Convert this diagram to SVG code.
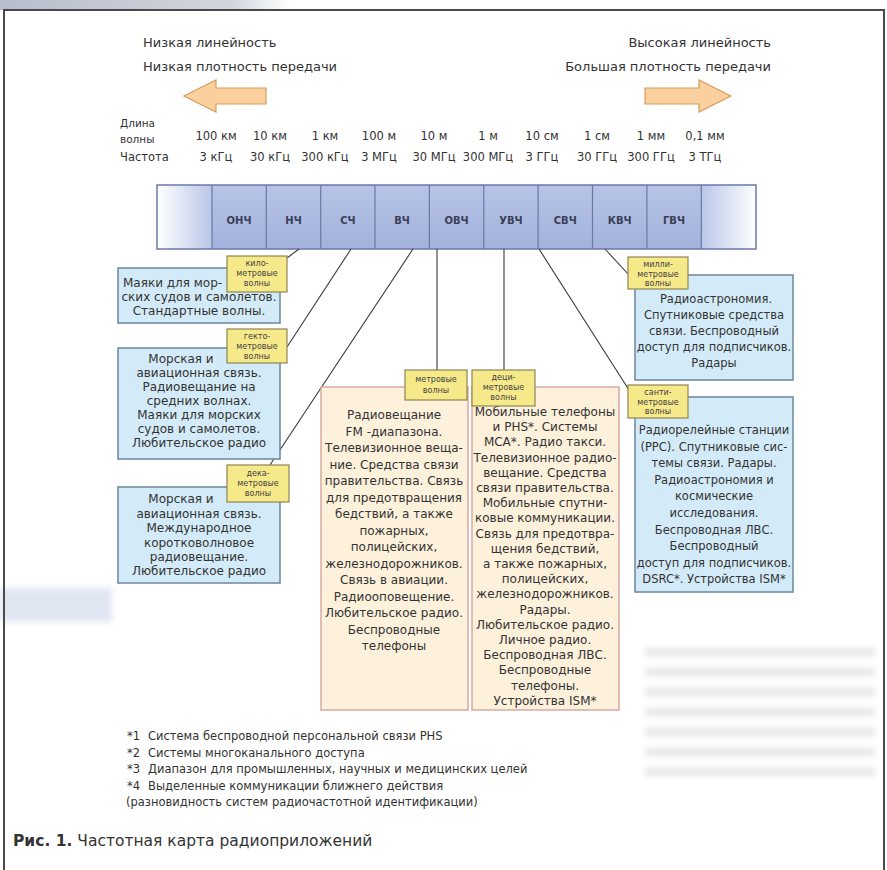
<svg xmlns="http://www.w3.org/2000/svg" width="887" height="870" viewBox="0 0 887 870">
<defs>
<linearGradient id="cell" x1="0" y1="0" x2="0" y2="1"><stop offset="0" stop-color="#b7c4e7"/><stop offset="1" stop-color="#a2b2dc"/></linearGradient>
<linearGradient id="endL" x1="0" y1="0" x2="1" y2="0"><stop offset="0" stop-color="#ffffff"/><stop offset="1" stop-color="#b9c6e8"/></linearGradient>
<linearGradient id="endR" x1="0" y1="0" x2="1" y2="0"><stop offset="0" stop-color="#b9c6e8"/><stop offset="1" stop-color="#ffffff"/></linearGradient>
<linearGradient id="corner" x1="0" y1="0" x2="1" y2="0"><stop offset="0" stop-color="#b9bccb"/><stop offset="0.8" stop-color="#d3d5de"/><stop offset="1" stop-color="#ffffff"/></linearGradient>
<filter id="blur"><feGaussianBlur stdDeviation="3"/></filter>
</defs>
<style>
text{font-family:"DejaVu Sans","Liberation Sans",sans-serif;fill:#333}
.top{font-size:13px}
.scale{font-size:11.5px;text-anchor:middle}
.band{font-size:10px;font-weight:bold;text-anchor:middle;fill:#3a3f55}
.blue{fill:#d3ebf8;stroke:#6a879c;stroke-width:1.5}
.orange{fill:#fdf1dc;stroke:#d9a9a2;stroke-width:1.5}
.tag rect{fill:#f6e98a;stroke:#8e8552;stroke-width:1.2}
.tag text{font-size:8px;text-anchor:middle;fill:#444}
.bt{font-size:12px;text-anchor:middle}
.rt{font-size:11.5px;text-anchor:middle}
.lt{font-size:12px;text-anchor:start}
.conn line{stroke:#3a3a3a;stroke-width:1.1}
.arrow{fill:#fbd09f;stroke:#d89a5c;stroke-width:1.2}
.fn{font-size:11.5px}
.div{stroke:#6a78a6;stroke-width:1.2}
</style>
<rect width="887" height="870" fill="#ffffff"/>
<rect x="0" y="0" width="290" height="10" fill="url(#corner)"/>
<g opacity="0.18" filter="url(#blur)">
<rect x="0" y="588" width="112" height="34" fill="#5a78b8"/>
<rect x="645" y="648" width="230" height="8" fill="#777"/>
<rect x="645" y="668" width="230" height="8" fill="#777"/>
<rect x="645" y="688" width="230" height="8" fill="#777"/>
<rect x="645" y="708" width="230" height="8" fill="#777"/>
<rect x="645" y="728" width="230" height="8" fill="#777"/>
<rect x="645" y="748" width="230" height="8" fill="#777"/>
<rect x="645" y="768" width="230" height="8" fill="#777"/>
</g>
<path d="M4 870 V10 H884 V870" fill="none" stroke="#4a4a4a" stroke-width="2"/>

<g id="header">
<text class="top" x="143" y="47">Низкая линейность</text>
<text class="top" x="143" y="71">Низкая плотность передачи</text>
<text class="top" x="771" y="47" text-anchor="end">Высокая линейность</text>
<text class="top" x="771" y="71" text-anchor="end">Большая плотность передачи</text>
<path class="arrow" d="M184 96 L216 80 L216 88 L266 88 L266 104 L216 104 L216 112 Z"/>
<path class="arrow" d="M731 96 L699 80 L699 88 L645 88 L645 104 L699 104 L699 112 Z"/>
</g>

<g id="scale">
<text x="120" y="127" font-size="10.5px">Длина</text>
<text x="120" y="143" font-size="10.5px">волны</text>
<text x="120" y="161" font-size="11.5px">Частота</text>
<text class="scale" x="216" y="140">100 км</text>
<text class="scale" x="270" y="140">10 км</text>
<text class="scale" x="325" y="140">1 км</text>
<text class="scale" x="379" y="140">100 м</text>
<text class="scale" x="434" y="140">10 м</text>
<text class="scale" x="488" y="140">1 м</text>
<text class="scale" x="542" y="140">10 см</text>
<text class="scale" x="597" y="140">1 см</text>
<text class="scale" x="651" y="140">1 мм</text>
<text class="scale" x="705" y="140">0,1 мм</text>
<text class="scale" x="216" y="161">3 кГц</text>
<text class="scale" x="270" y="161">30 кГц</text>
<text class="scale" x="325" y="161">300 кГц</text>
<text class="scale" x="379" y="161">3 МГц</text>
<text class="scale" x="434" y="161">30 МГц</text>
<text class="scale" x="488" y="161">300 МГц</text>
<text class="scale" x="542" y="161">3 ГГц</text>
<text class="scale" x="597" y="161">30 ГГц</text>
<text class="scale" x="651" y="161">300 ГГц</text>
<text class="scale" x="705" y="161">3 ТГц</text>
</g>

<g id="band">
<rect x="157" y="185" width="55" height="64" fill="url(#endL)"/>
<rect x="212" y="185" width="489.3" height="64" fill="url(#cell)"/>
<rect x="701.3" y="185" width="54.7" height="64" fill="url(#endR)"/>
<rect x="157" y="185" width="599" height="64" fill="none" stroke="#6a78a6" stroke-width="1.5"/>
<line class="div" x1="212" y1="185" x2="212" y2="249"/>
<line class="div" x1="266.3" y1="185" x2="266.3" y2="249"/>
<line class="div" x1="320.7" y1="185" x2="320.7" y2="249"/>
<line class="div" x1="375" y1="185" x2="375" y2="249"/>
<line class="div" x1="429.4" y1="185" x2="429.4" y2="249"/>
<line class="div" x1="483.8" y1="185" x2="483.8" y2="249"/>
<line class="div" x1="538.1" y1="185" x2="538.1" y2="249"/>
<line class="div" x1="592.5" y1="185" x2="592.5" y2="249"/>
<line class="div" x1="646.9" y1="185" x2="646.9" y2="249"/>
<line class="div" x1="701.3" y1="185" x2="701.3" y2="249"/>
<text class="band" x="239" y="224">ОНЧ</text>
<text class="band" x="293.5" y="224">НЧ</text>
<text class="band" x="348" y="224">СЧ</text>
<text class="band" x="402" y="224">ВЧ</text>
<text class="band" x="456.6" y="224">ОВЧ</text>
<text class="band" x="511" y="224">УВЧ</text>
<text class="band" x="565.3" y="224">СВЧ</text>
<text class="band" x="619.7" y="224">КВЧ</text>
<text class="band" x="674" y="224">ГВЧ</text>
</g>

<g id="connectors" class="conn">
<line x1="299" y1="249" x2="287" y2="258"/>
<line x1="351" y1="249" x2="287" y2="347"/>
<line x1="413" y1="249" x2="270" y2="465"/>
<line x1="437" y1="249" x2="437" y2="370"/>
<line x1="504" y1="249" x2="504" y2="370"/>
<line x1="539" y1="249" x2="629" y2="390"/>
<line x1="605" y1="249" x2="629" y2="275"/>
</g>

<g id="box-km">
<rect class="blue" x="118" y="268" width="162" height="55"/>
<text class="lt" x="123" y="287">Маяки для мор-</text>
<text class="bt" x="199" y="301">ских судов и самолетов.</text>
<text class="bt" x="199" y="315">Стандартные волны.</text>
</g>
<g id="tag-km" class="tag">
<rect x="227" y="256" width="60" height="36"/>
<text x="257" y="266">кило-</text>
<text x="257" y="276">метровые</text>
<text x="257" y="286">волны</text>
</g>

<g id="box-hm">
<rect class="blue" x="118" y="348" width="162" height="111"/>
<text class="bt" x="181" y="363">Морская и</text>
<text class="bt" x="199" y="377">авиационная связь.</text>
<text class="bt" x="199" y="391">Радиовещание на</text>
<text class="bt" x="199" y="405">средних волнах.</text>
<text class="bt" x="199" y="419">Маяки для морских</text>
<text class="bt" x="199" y="433">судов и самолетов.</text>
<text class="bt" x="199" y="447">Любительское радио</text>
</g>
<g id="tag-hm" class="tag">
<rect x="227" y="329" width="60" height="34"/>
<text x="257" y="339">гекто-</text>
<text x="257" y="349">метровые</text>
<text x="257" y="359">волны</text>
</g>

<g id="box-dam">
<rect class="blue" x="118" y="487" width="162" height="96"/>
<text class="bt" x="181" y="503">Морская и</text>
<text class="bt" x="199" y="518">авиационная связь.</text>
<text class="bt" x="199" y="532">Международное</text>
<text class="bt" x="199" y="547">коротковолновое</text>
<text class="bt" x="199" y="561">радиовещание.</text>
<text class="bt" x="199" y="575">Любительское радио</text>
</g>
<g id="tag-dam" class="tag">
<rect x="227" y="465" width="62" height="37"/>
<text x="258" y="476">дека-</text>
<text x="258" y="486">метровые</text>
<text x="258" y="496">волны</text>
</g>

<g id="box-m">
<rect class="orange" x="321" y="387" width="147" height="323"/>
<text class="bt" x="394" y="419">Радиовещание</text>
<text class="bt" x="394" y="435.5">FM -диапазона.</text>
<text class="bt" x="394" y="452">Телевизионное веща-</text>
<text class="bt" x="394" y="468.5">ние. Средства связи</text>
<text class="bt" x="394" y="485">правительства. Связь</text>
<text class="bt" x="394" y="501.5">для предотвращения</text>
<text class="bt" x="394" y="518">бедствий, а также</text>
<text class="bt" x="394" y="534.5">пожарных,</text>
<text class="bt" x="394" y="551">полицейских,</text>
<text class="bt" x="394" y="567.5">железнодорожников.</text>
<text class="bt" x="394" y="584">Связь в авиации.</text>
<text class="bt" x="394" y="600.5">Радиооповещение.</text>
<text class="bt" x="394" y="617">Любительское радио.</text>
<text class="bt" x="394" y="633.5">Беспроводные</text>
<text class="bt" x="394" y="650">телефоны</text>
</g>
<g id="tag-m" class="tag">
<rect x="405" y="370" width="62" height="30"/>
<text x="436" y="382">метровые</text>
<text x="436" y="393">волны</text>
</g>

<g id="box-dm">
<rect class="orange" x="472" y="387" width="147" height="323"/>
<text class="bt" x="545" y="416">Мобильные телефоны</text>
<text class="bt" x="545" y="431.2">и PHS*. Системы</text>
<text class="bt" x="545" y="446.4">MCA*. Радио такси.</text>
<text class="bt" x="545" y="461.6">Телевизионное радио-</text>
<text class="bt" x="545" y="476.8">вещание. Средства</text>
<text class="bt" x="545" y="492">связи правительства.</text>
<text class="bt" x="545" y="507.2">Мобильные спутни-</text>
<text class="bt" x="545" y="522.4">ковые коммуникации.</text>
<text class="bt" x="545" y="537.6">Связь для предотвра-</text>
<text class="bt" x="545" y="552.8">щения бедствий,</text>
<text class="bt" x="545" y="568">а также пожарных,</text>
<text class="bt" x="545" y="583.2">полицейских,</text>
<text class="bt" x="545" y="598.4">железнодорожников.</text>
<text class="bt" x="545" y="613.6">Радары.</text>
<text class="bt" x="545" y="628.8">Любительское радио.</text>
<text class="bt" x="545" y="644">Личное радио.</text>
<text class="bt" x="545" y="659.2">Беспроводная ЛВС.</text>
<text class="bt" x="545" y="674.4">Беспроводные</text>
<text class="bt" x="545" y="689.6">телефоны.</text>
<text class="bt" x="545" y="704.8">Устройства ISM*</text>
</g>
<g id="tag-dm" class="tag">
<rect x="472" y="370" width="63" height="36"/>
<text x="503.5" y="380">деци-</text>
<text x="503.5" y="390">метровые</text>
<text x="503.5" y="400">волны</text>
</g>

<g id="box-mm">
<rect class="blue" x="635" y="275" width="158" height="105"/>
<text class="rt" x="716" y="303">Радиоастрономия.</text>
<text class="rt" x="714" y="319">Спутниковые средства</text>
<text class="rt" x="714" y="335">связи. Беспроводный</text>
<text class="rt" x="714" y="351">доступ для подписчиков.</text>
<text class="rt" x="714" y="367">Радары</text>
</g>
<g id="tag-mm" class="tag">
<rect x="628" y="257" width="60" height="32"/>
<text x="658" y="267">милли-</text>
<text x="658" y="277">метровые</text>
<text x="658" y="286">волны</text>
</g>

<g id="box-cm">
<rect class="blue" x="635" y="397" width="158" height="195"/>
<text class="rt" x="714" y="434">Радиорелейные станции</text>
<text class="rt" x="714" y="450.6">(РРС). Спутниковые сис-</text>
<text class="rt" x="714" y="467.2">темы связи. Радары.</text>
<text class="rt" x="714" y="483.8">Радиоастрономия и</text>
<text class="rt" x="714" y="500.4">космические</text>
<text class="rt" x="714" y="517">исследования.</text>
<text class="rt" x="714" y="533.6">Беспроводная ЛВС.</text>
<text class="rt" x="714" y="550.2">Беспроводный</text>
<text class="rt" x="714" y="566.8">доступ для подписчиков.</text>
<text class="rt" x="714" y="583.4">DSRC*. Устройства ISM*</text>
</g>
<g id="tag-cm" class="tag">
<rect x="628" y="385" width="60" height="33"/>
<text x="658" y="395">санти-</text>
<text x="658" y="405">метровые</text>
<text x="658" y="414">волны</text>
</g>

<g id="footnotes">
<text class="fn" x="127" y="740">*1</text><text class="fn" x="148" y="740">Система беспроводной персональной связи PHS</text>
<text class="fn" x="127" y="757">*2</text><text class="fn" x="148" y="757">Системы многоканального доступа</text>
<text class="fn" x="127" y="773">*3</text><text class="fn" x="148" y="773">Диапазон для промышленных, научных и медицинских целей</text>
<text class="fn" x="127" y="790">*4</text><text class="fn" x="148" y="790">Выделенные коммуникации ближнего действия</text>
<text class="fn" x="126" y="806">(разновидность систем радиочастотной идентификации)</text>
</g>

<g id="caption">
<text x="13" y="846" font-size="15.5px"><tspan font-weight="bold">Рис. 1.</tspan> Частотная карта радиоприложений</text>
</g>
</svg>
